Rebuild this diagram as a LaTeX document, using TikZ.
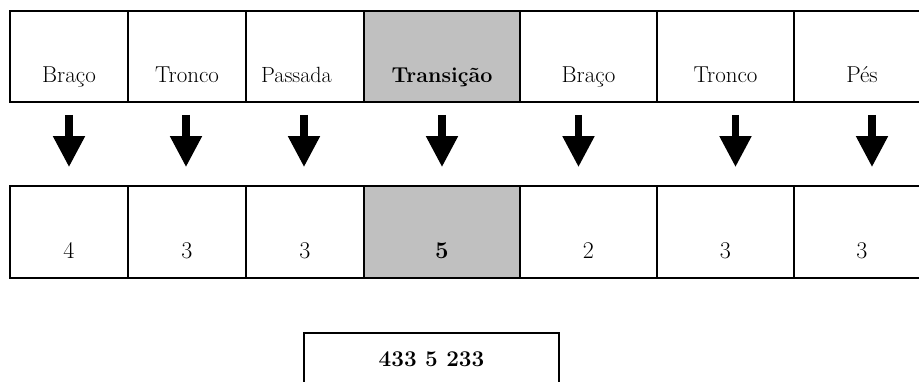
\documentclass[tikz,border=0pt]{standalone}
\usetikzlibrary{arrows.meta}
\begin{document}
\begin{tikzpicture}[x=1pt,y=-1pt,
  cell/.style={draw=black, line width=1.6pt, inner xsep=0pt, inner ysep=0pt,
    font=\fontsize{23}{27}\selectfont},
  toprow/.style={cell, minimum height=91pt, text height=71pt, text depth=20pt},
  botrow/.style={cell, minimum height=92pt, text height=72pt, text depth=20pt,
    font=\fontsize{24}{28}\selectfont},
  hl/.style={fill=hlgray},
  downarrow/.style={line width=7.5pt,
    -{Triangle[width=30pt,length=31pt]},
    shorten <=12pt, shorten >=18pt}]
\definecolor{hlgray}{HTML}{C0C0C0}
\useasboundingbox (0,0) rectangle (919,381);
\clip (0,0) rectangle (919,381);

% body parts
\node[toprow, minimum width=118pt] (t1) at (69,56.5) {Braço};
\node[toprow, minimum width=118pt] (t2) at (187,56.5) {Tronco};
\node[toprow, minimum width=118pt] (t3) at (305,56.5) {\fontsize{22}{26}\selectfont Passada\hspace*{17pt}};
\node[toprow, hl, minimum width=156pt] (t4) at (442,56.5) {\fontsize{21.5}{26}\selectfont\bfseries Transição};
\node[toprow, minimum width=137pt] (t5) at (588.5,56.5) {Braço};
\node[toprow, minimum width=137pt] (t6) at (725.5,56.5) {Tronco};
\node[toprow, minimum width=136pt] (t7) at (862,56.5) {Pés};

% scores
\node[botrow, minimum width=118pt] (b1) at (69,232) {4};
\node[botrow, minimum width=118pt] (b2) at (187,232) {3};
\node[botrow, minimum width=118pt] (b3) at (305,232) {3};
\node[botrow, hl, minimum width=156pt] (b4) at (442,232) {\bfseries 5};
\node[botrow, minimum width=137pt] (b5) at (588.5,232) {2};
\node[botrow, minimum width=137pt] (b6) at (725.5,232) {3};
\node[botrow, minimum width=136pt] (b7) at (862,232) {3};

% arrows from each part to its score
\draw[downarrow] (t1.south) -- (b1.north);
\draw[downarrow] ([xshift=-1pt]t2.south) -- ([xshift=-1pt]b2.north);
\draw[downarrow] ([xshift=-1pt]t3.south) -- ([xshift=-1pt]b3.north);
\draw[downarrow] (t4.south) -- (b4.north);
\draw[downarrow] ([xshift=-10pt]t5.south) -- ([xshift=-10pt]b5.north);
\draw[downarrow] ([xshift=10pt]t6.south) -- ([xshift=10pt]b6.north);
\draw[downarrow] ([xshift=10pt]t7.south) -- ([xshift=10pt]b7.north);

% final code
\node[cell, anchor=north, minimum width=255pt, minimum height=68pt,
  text height=34pt, text depth=34pt, font=\fontsize{22.5}{27}\selectfont]
  (code) at (431.5,332) {\bfseries 433 5 233};
\end{tikzpicture}
\end{document}
